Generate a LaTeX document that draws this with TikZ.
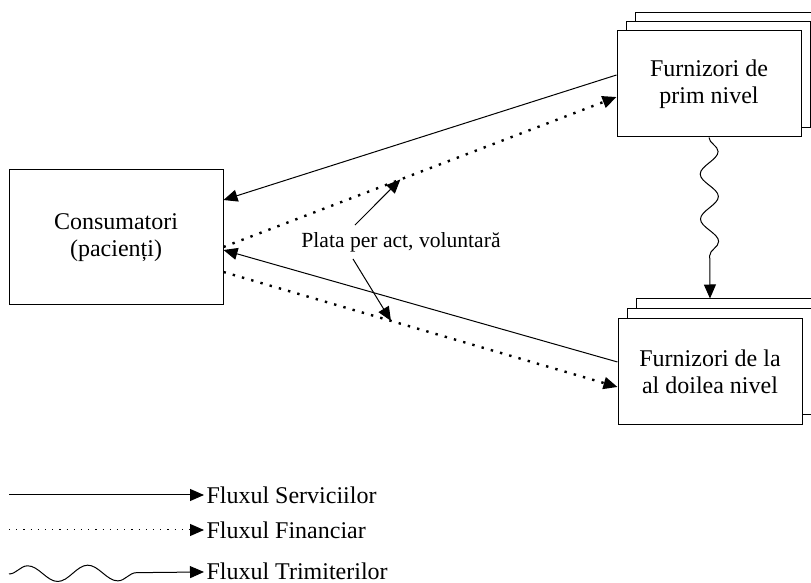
\documentclass[tikz,border=0pt]{standalone}
\usepackage{fontspec}
\setmainfont{Liberation Serif}
\usetikzlibrary{positioning,arrows.meta,shadows,decorations.pathmorphing}

\begin{document}
\begin{tikzpicture}[x=0.5pt,y=-0.5pt,>={Triangle[length=7pt,width=6pt]},line width=0.5pt,
    font=\fontsize{12}{13.5}\selectfont,
    box/.style={draw,fill=white,minimum width=92pt,minimum height=53pt,align=center},
    stack/.style={box,copy shadow={shadow xshift=9pt,shadow yshift=#1},copy shadow={shadow xshift=4.5pt,shadow yshift=#1/2}},
    money/.style={line width=1.2pt,dash pattern=on 1.2pt off 3.6pt},
    wave/.style={decorate,decoration={snake,segment length=22.5pt,amplitude=4.5pt,post length=15pt}}]
    \useasboundingbox (0,0) rectangle (811,583);

    \node[box,minimum width=107pt,minimum height=67.5pt] (cons) at (116,237.5) {Consumatori\\ (pacienți)};
    \node[stack=9pt] (prim) at (709,84) {Furnizori de\\ prim nivel};
    \node[stack=10pt] (sec) at (710,372) {Furnizori de la\\ al doilea nivel};
    \node[font=\fontsize{10.8}{13}\selectfont] (plata) at (401,242) {Plata per act, voluntară};
    \coordinate (sectop) at ([yshift=10pt]sec.north);

    % paths between consumers and providers
    \draw[->] ([yshift=4.5pt]prim.west) -- ([yshift=18.75pt]cons.east);
    \draw[money,->] ([yshift=-4.75pt]cons.east) -- coordinate[pos=0.45] (pu) ([yshift=-6.5pt]prim.west);
    \draw[->] ([yshift=5pt]sec.west) -- ([yshift=-6.25pt]cons.east);
    \draw[money,->] ([yshift=-17.25pt]cons.east) -- coordinate[pos=0.425] (pl) ([yshift=-7.5pt]sec.west);
    % referral between the two levels
    \draw[->,wave] (prim.south) -- (sectop);
    % label pointers
    \draw[->] ([xshift=-23pt]plata.north) -- (pu);
    \draw[->] ([xshift=-24pt]plata.south) -- (pl);

    % legend
    \coordinate (l1) at (9,495);
    \coordinate (l2) at (9,530);
    \coordinate (l3) at (9,574);
    \node[anchor=west,inner sep=1pt] (t1) at (204,495) {Fluxul Serviciilor};
    \node[anchor=west,inner sep=1pt] (t2) at (204,530) {Fluxul Financiar};
    \node[anchor=west,inner sep=1pt] (t3) at (204,571) {Fluxul Trimiterilor};
    \draw[->] (l1) -- (t1);
    \draw[->,dash pattern=on 0.6pt off 3pt] (l2) -- (t2);
    \draw[->,decorate,decoration={snake,segment length=30pt,amplitude=4pt,post length=20pt}] (l3) -- (t3);
\end{tikzpicture}
\end{document}
